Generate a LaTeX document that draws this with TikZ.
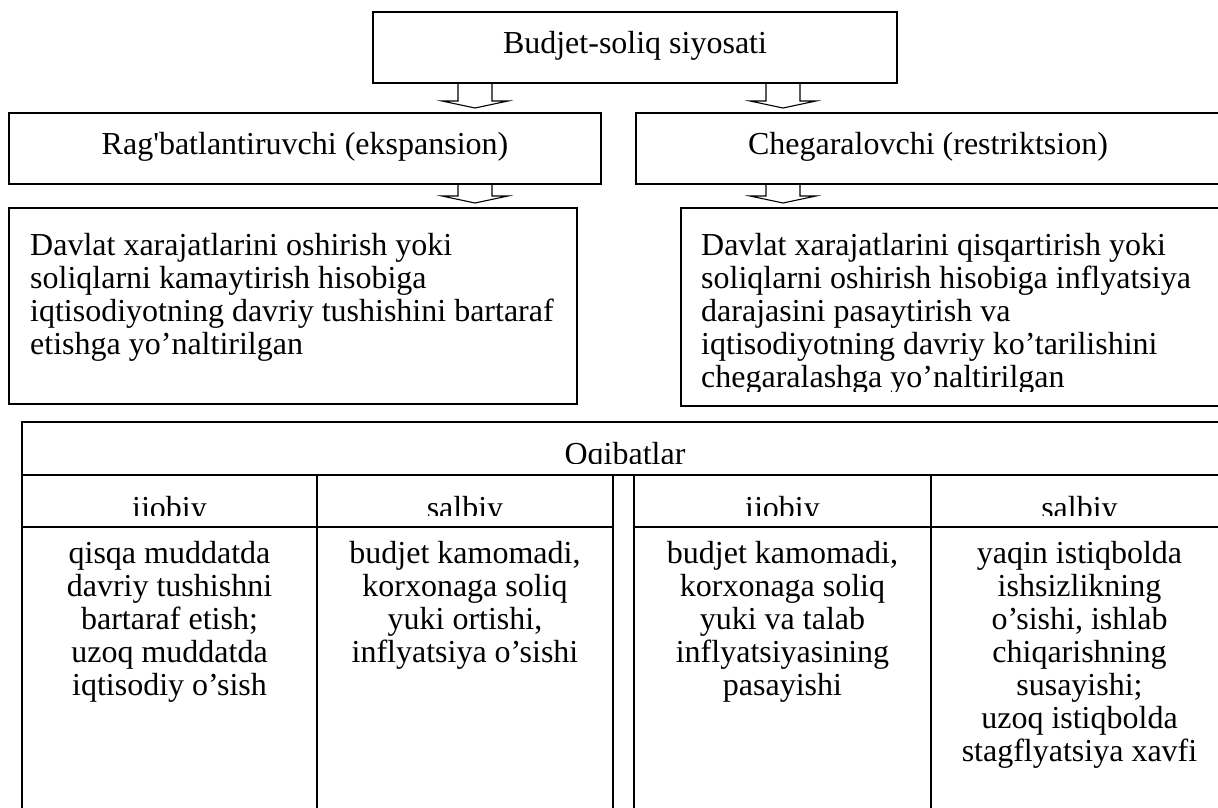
\documentclass[tikz,border=0pt]{standalone}
\usepackage{fontspec}
\setmainfont{Liberation Serif}
\usetikzlibrary{positioning,calc}

\begin{document}
\begin{tikzpicture}[x=1pt, y=-1pt,
  box/.style={draw, line width=1.8pt, inner sep=0pt, outer sep=0pt,
              font=\fontsize{32}{33}\selectfont, text height=20pt, text depth=9pt},
  para/.style={inner sep=0pt, align=left, font=\fontsize{32}{33}\selectfont},
  cell/.style={draw, line width=1.8pt, inner sep=0pt, outer sep=0pt},
  celltxt/.style={inner sep=0pt, align=center, font=\fontsize{32}{33}\selectfont},
  hollow/.style={line width=1.1pt, line join=miter}
]
  \useasboundingbox (0,0) rectangle (1218,807);

  % policy boxes
  \node[box, minimum width=524pt, minimum height=71pt] (bsp) at (635,47.5) {Budjet-soliq siyosati};
  \node[box, minimum width=592pt, minimum height=71pt] (reg) at (305,148.5) {Rag\textquotesingle batlantiruvchi (ekspansion)};
  \node[box, minimum width=584pt, minimum height=71pt] (cheg) at (928,148.5) {Chegaralovchi (restriktsion)};
  \node[box, minimum width=568pt, minimum height=196pt, anchor=north west] (lft) at (9,208) {};
  \node[box, minimum width=545pt, minimum height=198pt, anchor=north west] (rgt) at (681,208) {};

  \node[para, below right=25pt and 21pt of lft.north west] (lfttxt) {Davlat xarajatlarini oshirish yoki\\soliqlarni kamaytirish hisobiga\\iqtisodiyotning davriy tushishini bartaraf\\etishga yo'naltirilgan};
  \begin{scope}
    \clip (rgt.north west) rectangle ($(rgt.south east)+(0,-15)$);
    \node[para, below right=25pt and 20pt of rgt.north west] (rgttxt) {Davlat xarajatlarini qisqartirish yoki\\soliqlarni oshirish hisobiga inflyatsiya\\darajasini pasaytirish va\\iqtisodiyotning davriy ko'tarilishini\\chegaralashga yo'naltirilgan};
  \end{scope}

  % hollow arrows
  \foreach \xc/\src/\dst in {475/bsp/reg, 783/bsp/cheg, 475/reg/lft, 783/cheg/rgt}
    \draw[hollow] (\xc-17,0 |- \src.south) -- ($(\xc-17,0 |- \dst.north)+(0,-12)$) -- ++(-16,0)
      -- ($(\xc,0 |- \dst.north)+(0,-5)$) -- ($(\xc+33,0 |- \dst.north)+(0,-12)$) -- ++(-16,0)
      -- (\xc+17,0 |- \src.south);

  % consequences table
  \node[cell, minimum width=1206pt, minimum height=53pt, anchor=north west] (oq) at (22,422) {};
  \node[cell, minimum width=295pt, minimum height=52pt, anchor=north west] (ij1) at (oq.south west) {};
  \node[cell, minimum width=296pt, minimum height=52pt, anchor=north west] (sb1) at (ij1.north east) {};
  \node[cell, minimum width=297pt, minimum height=52pt, anchor=north west] (ij2) at ([xshift=21pt]sb1.north east) {};
  \node[cell, minimum width=297pt, minimum height=52pt, anchor=north west] (sb2) at (ij2.north east) {};
  \node[cell, minimum width=295pt, minimum height=290pt, anchor=north west] (bd1) at (ij1.south west) {};
  \node[cell, minimum width=296pt, minimum height=290pt, anchor=north west] (bd2) at (sb1.south west) {};
  \node[cell, minimum width=297pt, minimum height=290pt, anchor=north west] (bd3) at (ij2.south west) {};
  \node[cell, minimum width=297pt, minimum height=290pt, anchor=north west] (bd4) at (sb2.south west) {};

  \begin{scope}
    \clip (oq.north west) rectangle ($(oq.south east)+(0,-12)$);
    \node[celltxt, anchor=base] (oqt) at ($(oq.south)+(0,-11)$) {Oqibatlar};
  \end{scope}
  \begin{scope}
    \clip (ij1.north west) rectangle ($(sb2.south east)+(0,-12)$);
    \node[celltxt, anchor=base] (ij1t) at ($(ij1.south)+(0,-9)$) {ijobiy};
    \node[celltxt, anchor=base] (sb1t) at ($(sb1.south)+(0,-9)$) {salbiy};
    \node[celltxt, anchor=base] (ij2t) at ($(ij2.south)+(0,-9)$) {ijobiy};
    \node[celltxt, anchor=base] (sb2t) at ($(sb2.south)+(0,-9)$) {salbiy};
  \end{scope}

  \node[celltxt, below=14pt of bd1.north] (bd1t) {qisqa muddatda\\davriy tushishni\\bartaraf etish;\\uzoq muddatda\\iqtisodiy o'sish};
  \node[celltxt, below=14pt of bd2.north] (bd2t) {budjet kamomadi,\\korxonaga soliq\\yuki ortishi,\\inflyatsiya o'sishi};
  \node[celltxt, below=14pt of bd3.north] (bd3t) {budjet kamomadi,\\korxonaga soliq\\yuki va talab\\inflyatsiyasining\\pasayishi};
  \node[celltxt, below=14pt of bd4.north] (bd4t) {yaqin istiqbolda\\ishsizlikning\\o'sishi, ishlab\\chiqarishning\\susayishi;\\uzoq istiqbolda\\stagflyatsiya xavfi};
\end{tikzpicture}
\end{document}
